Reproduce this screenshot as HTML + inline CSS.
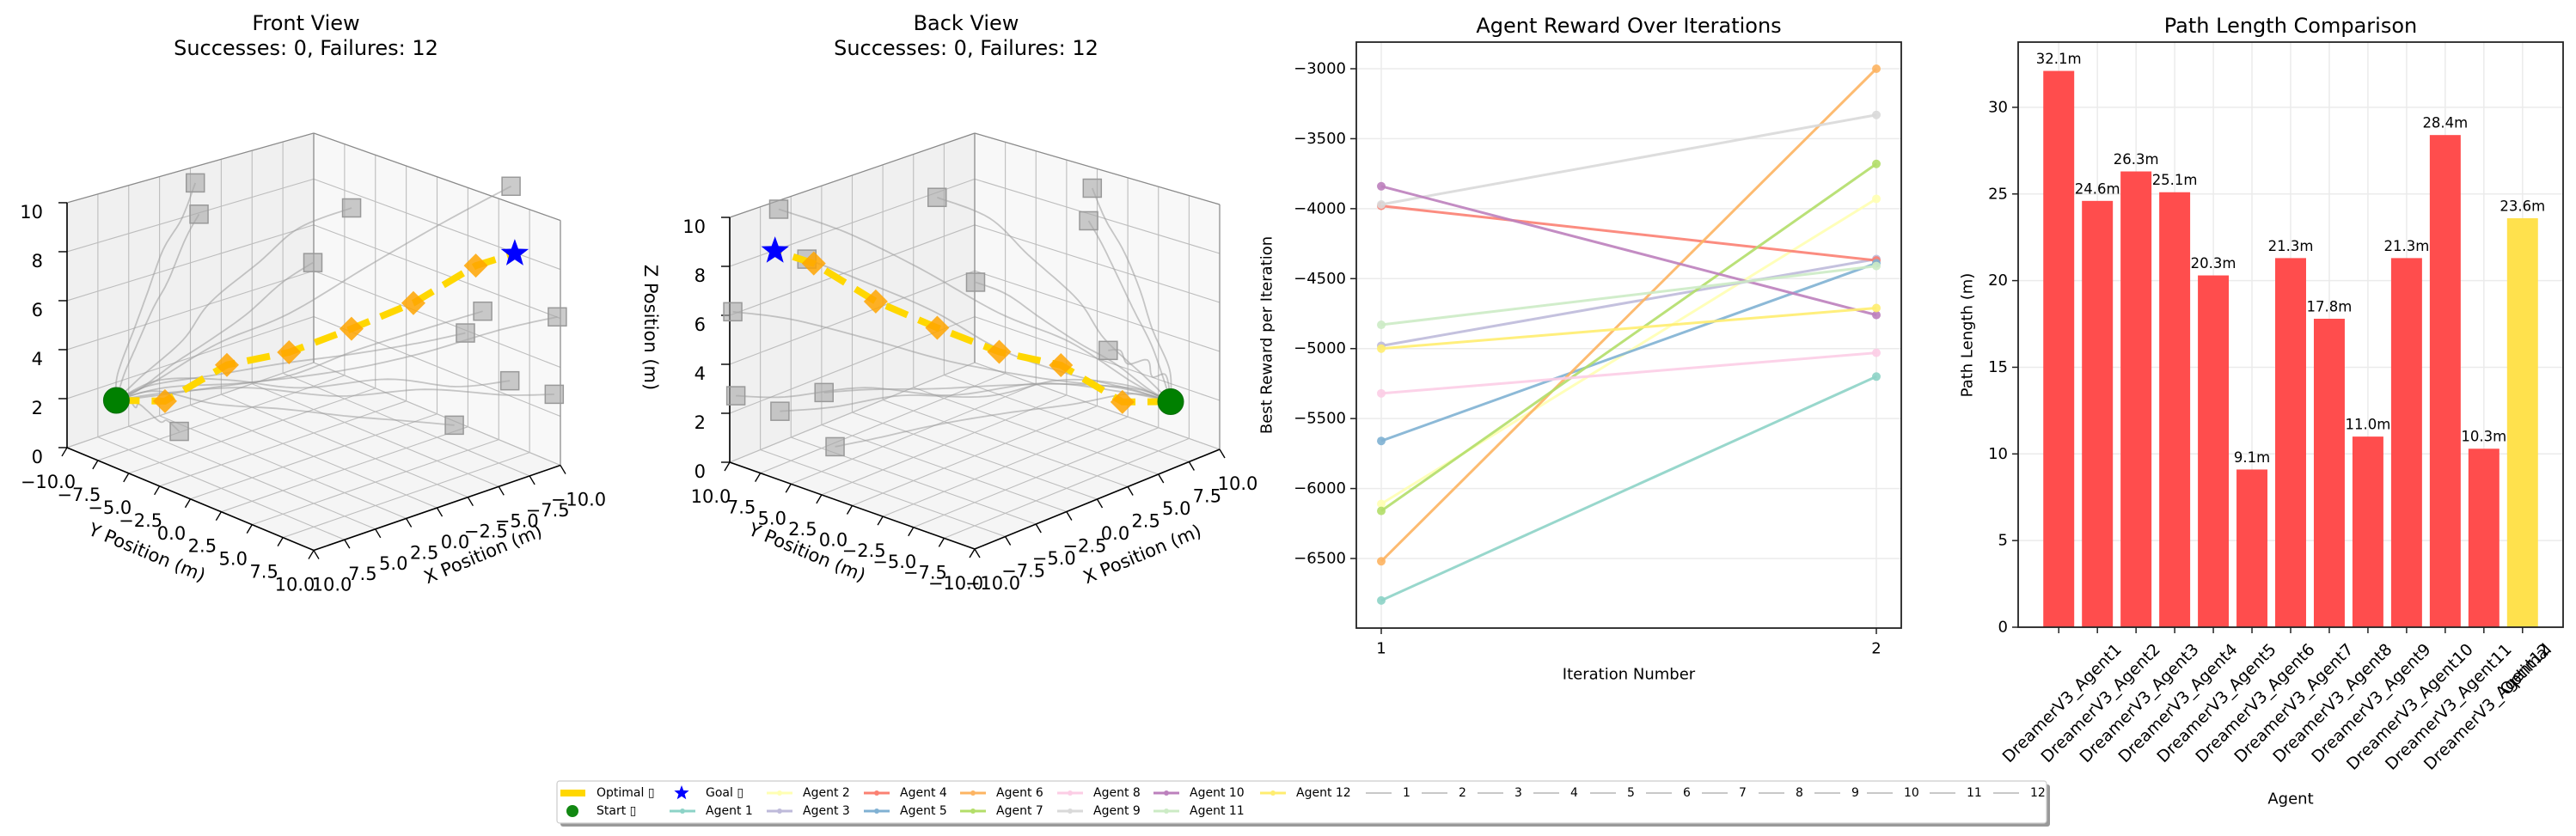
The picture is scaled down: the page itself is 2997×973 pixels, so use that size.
<!DOCTYPE html>
<html><head><meta charset="utf-8"><title>Agent Trajectory Analysis</title>
<style>
html,body{margin:0;padding:0;background:#fff;}
svg{display:block;font-family:"DejaVu Sans","Liberation Sans",sans-serif;}
</style></head>
<body>
<svg id="chart" xmlns="http://www.w3.org/2000/svg" width="2997" height="973" viewBox="0 0 2997 973">
<rect x="0" y="0" width="2997" height="973" fill="#ffffff"/>
</svg>
<script>
// ===== 3D scene data =====
const startPos = [8, -8, 2];
const goalPos = [-8.15, 8.15, 8.58];
const pathX = [8, 6.03, 3.52, 1.0, -1.53, -4.04, -6.57, -8.15];
const pathY = [-8, -6.03, -3.52, -1.0, 1.53, 4.04, 6.57, 8.15];
const pathZ = [2, 2.04, 3.61, 4.22, 5.27, 6.41, 8.03, 8.58];
const obsX = [4.49, 4.26, -0.92, -1.2, -9.66, -3.83, -9.75, -9.68, -9.8, -10, -6.98, 10];
const obsY = [-5.11, -5.04, 2.15, -1.27, 6.34, 9.87, 10, 2.62, 6.1, 9.5, 4.42, -0.9];
const obsZ = [10.9, 9.6, 10.4, 7.5, 10.8, 7.2, 6.1, 4.0, 2.7, 2.8, 1.0, 2.5];
const trajX = [
  [8, 8.3, 7.2, 7.0, 6.0, 5.3, 4.49],
  [8, 7.6, 7.4, 6.4, 6.0, 4.9, 4.26],
  [8, 7.0, 5.4, 4.4, 2.6, 1.2, -0.92],
  [8, 7.2, 5.8, 4.2, 2.5, 0.6, -1.2],
  [8, 6.5, 4.0, 1.0, -2.5, -6.0, -9.66],
  [8, 6.8, 4.5, 2.5, 0.5, -2.0, -3.83],
  [8, 6.0, 3.0, -0.5, -3.5, -7.0, -9.75],
  [8, 6.5, 3.5, 0.0, -3.5, -7.0, -9.68],
  [8, 6.0, 3.5, 0.0, -4.0, -7.0, -9.8],
  [8, 6.2, 3.0, -1.0, -4.5, -8.0, -10],
  [8, 6.3, 4.0, 1.0, -2.0, -5.0, -6.98],
  [8, 8.6, 9.0, 9.6, 9.5, 9.9, 10]];
const trajY = [
  [-8, -7.6, -7.3, -6.5, -6.2, -5.4, -5.11],
  [-8, -7.8, -7.0, -6.6, -5.8, -5.5, -5.04],
  [-8, -7.0, -5.2, -4.0, -1.8, 0.0, 2.15],
  [-8, -7.0, -5.6, -4.4, -3.0, -2.0, -1.27],
  [-8, -6.5, -3.8, -1.0, 2.0, 4.5, 6.34],
  [-8, -6.0, -3.0, 0.5, 4.0, 7.5, 9.87],
  [-8, -6.0, -2.5, 1.5, 5.0, 8.0, 10],
  [-8, -6.8, -4.5, -2.5, -0.5, 1.5, 2.62],
  [-8, -6.5, -3.5, -1.0, 2.0, 4.5, 6.1],
  [-8, -6.0, -2.5, 1.0, 4.5, 7.5, 9.5],
  [-8, -6.5, -4.0, -1.5, 1.0, 3.0, 4.42],
  [-8, -7.0, -5.5, -4.5, -3.0, -2.0, -0.9]];
const trajZ = [
  [2, 3.2, 5.0, 6.5, 8.2, 9.5, 10.9],
  [2, 3.0, 4.3, 5.8, 7.0, 8.6, 9.6],
  [2, 3.0, 4.6, 6.2, 8.0, 9.5, 10.4],
  [2, 2.5, 3.6, 4.5, 5.6, 6.8, 7.5],
  [2, 2.8, 4.5, 5.8, 7.8, 9.5, 10.8],
  [2, 2.4, 3.0, 3.8, 5.2, 6.4, 7.2],
  [2, 2.6, 3.0, 3.7, 4.6, 5.6, 6.1],
  [2, 2.6, 3.0, 3.3, 3.5, 3.8, 4.0],
  [2, 2.8, 3.0, 2.6, 2.9, 2.6, 2.7],
  [2, 2.4, 2.8, 2.5, 2.9, 2.7, 2.8],
  [2, 2.4, 2.0, 1.8, 1.5, 1.2, 1.0],
  [2, 2.8, 2.4, 2.8, 2.4, 2.7, 2.5]];
const axisTicksXY = [-10, -7.5, -5, -2.5, 0, 2.5, 5, 7.5, 10];
const axisTicksZ = [0, 2, 4, 6, 8, 10];

// ===== Reward line chart data =====
const iterations = [1, 2];
const agentNames = ["Agent 1","Agent 2","Agent 3","Agent 4","Agent 5","Agent 6","Agent 7","Agent 8","Agent 9","Agent 10","Agent 11","Agent 12"];
const rewardIter1 = [-6800, -6110, -4980, -3980, -5660, -6520, -6160, -5320, -3970, -3840, -4830, -5000];
const rewardIter2 = [-5200, -3930, -4360, -4370, -4390, -3000, -3680, -5030, -3330, -4760, -4410, -4710];
const rewardTicks = [-3000, -3500, -4000, -4500, -5000, -5500, -6000, -6500];
const agentColors = ["#8dd3c7","#ffffb3","#bebada","#fb8072","#80b1d3","#fdb462","#b3de69","#fccde5","#d9d9d9","#bc80bd","#ccebc5","#ffed6f"];

// ===== Path length bar chart data =====
const barLabels = ["DreamerV3_Agent1","DreamerV3_Agent2","DreamerV3_Agent3","DreamerV3_Agent4","DreamerV3_Agent5","DreamerV3_Agent6","DreamerV3_Agent7","DreamerV3_Agent8","DreamerV3_Agent9","DreamerV3_Agent10","DreamerV3_Agent11","DreamerV3_Agent12","Optimal"];
const barValues = [32.1, 24.6, 26.3, 25.1, 20.3, 9.1, 21.3, 17.8, 11.0, 21.3, 28.4, 10.3, 23.6];
const barTicks = [0, 5, 10, 15, 20, 25, 30];

const NS = "http://www.w3.org/2000/svg";
const svg = document.getElementById("chart");
function el(tag, parent) { const e = document.createElementNS(NS, tag); (parent || svg).appendChild(e); return e; }
function set(e, o) { for (const k in o) e.setAttribute(k, o[k]); return e; }
function fmt(v) { return v.toFixed(1).replace("-", "\u2212"); }
function txt(parent, x, y, s, size, anchor, extra) {
  const t = el("text", parent);
  set(t, { x: x, y: y, "font-size": size, "text-anchor": anchor || "middle", "dominant-baseline": "central", fill: "#000" });
  if (extra) set(t, extra);
  t.textContent = s;
  return t;
}

function proj(v, x, y, z) {
  if (v === 0) {
    const d = (x + y) / 20;
    return [365 - 14.35 * x + 14.35 * y, 531.25 + 4.95 * x + 5.98 * y - (28.5 + 1.8 * d) * z];
  }
  const d = -(x + y) / 20;
  return [1134 + 14.25 * x - 14.25 * y, 530.5 - 5.8 * x - 5.05 * y - (28.5 + 1.8 * d) * z];
}
function polyPts(v, pts) { return pts.map(p => proj(v, p[0], p[1], p[2]).map(n => n.toFixed(1)).join(",")).join(" "); }
function line3(v, g, a, b, stroke, w) {
  const p = proj(v, a[0], a[1], a[2]), q = proj(v, b[0], b[1], b[2]);
  return set(el("line", g), { x1: p[0], y1: p[1], x2: q[0], y2: q[1], stroke: stroke, "stroke-width": w });
}
function catmull(xs, ys, zs) {
  const out = [];
  const n = xs.length;
  for (let i = 0; i < n - 1; i++) {
    const i0 = Math.max(0, i - 1), i3 = Math.min(n - 1, i + 2);
    for (let s = 0; s < 10; s++) {
      const t = s / 10, t2 = t * t, t3 = t2 * t;
      const f = (a, b, c, d) => 0.5 * ((2 * b) + (-a + c) * t + (2 * a - 5 * b + 4 * c - d) * t2 + (-a + 3 * b - 3 * c + d) * t3);
      out.push([f(xs[i0], xs[i], xs[i + 1], xs[i3]), f(ys[i0], ys[i], ys[i + 1], ys[i3]), f(zs[i0], zs[i], zs[i + 1], zs[i3])]);
    }
  }
  out.push([xs[n - 1], ys[n - 1], zs[n - 1]]);
  return out;
}
function starPoints(cx, cy, R, r) {
  const pts = [];
  for (let i = 0; i < 10; i++) {
    const a = -Math.PI / 2 + i * Math.PI / 5, rad = i % 2 === 0 ? R : r;
    pts.push((cx + rad * Math.cos(a)).toFixed(1) + "," + (cy + rad * Math.sin(a)).toFixed(1));
  }
  return pts.join(" ");
}

function draw3D(v) {
  const s = v === 0 ? 1 : -1;
  const g = el("g");
  
  
  const cx = v === 0 ? 356 : 1124;
  const t1 = txt(g, cx, 27, v === 0 ? "Front View" : "Back View", 24);
  
  
  const t2 = txt(g, cx, 56, "Successes: 0, Failures: 12", 24);
  
  
  const px = -10 * s, py = -10 * s;
  const floor = set(el("polygon", g), { points: polyPts(v, [[-10,-10,0],[10,-10,0],[10,10,0],[-10,10,0]]), fill: "#f5f5f5", stroke: "none" });
  
  
  const wy = set(el("polygon", g), { points: polyPts(v, [[-10,py,0],[10,py,0],[10,py,10],[-10,py,10]]), fill: "#f0f0f0", stroke: "none" });
  
  
  const wx = set(el("polygon", g), { points: polyPts(v, [[px,-10,0],[px,10,0],[px,10,10],[px,-10,10]]), fill: "#f8f8f8", stroke: "none" });
  
  
  const gg = el("g", g);
  
  
  const gc = "#bdbdbd";
  axisTicksXY.forEach(t => {
    line3(v, gg, [t,-10,0], [t,10,0], gc, 1.1);
    line3(v, gg, [-10,t,0], [10,t,0], gc, 1.1);
    line3(v, gg, [t,py,0], [t,py,10], gc, 1.1);
    line3(v, gg, [px,t,0], [px,t,10], gc, 1.1);
  });
  axisTicksZ.forEach(z => {
    line3(v, gg, [-10,py,z], [10,py,z], gc, 1.1);
    line3(v, gg, [px,-10,z], [px,10,z], gc, 1.1);
  });
  [[[px,py,0],[px,py,10]],[[-px,py,10],[px,py,10]],[[px,py,10],[px,-py,10]],[[-px,py,0],[-px,py,10]],[[px,-py,0],[px,-py,10]]].forEach(e => line3(v, gg, e[0], e[1], "#8a8a8a", 1.2));
  const ax = el("g", g);
  
  
  line3(v, ax, [10*s,-10*s,0], [10*s,-10*s,10], "#000", 1.6);
  line3(v, ax, [10*s,-10*s,0], [10*s,10*s,0], "#000", 1.6);
  line3(v, ax, [10*s,10*s,0], [-10*s,10*s,0], "#000", 1.6);
  axisTicksXY.forEach(t => {
    const p = proj(v, 10*s, t, 0);
    set(el("line", ax), { x1: p[0], y1: p[1], x2: p[0]-6, y2: p[1]+10, stroke: "#000", "stroke-width": 1.4 });
    const l = txt(g, p[0] - 22, p[1] + 40, fmt(t), 21);
    
    
    const q = proj(v, t, 10*s, 0);
    set(el("line", ax), { x1: q[0], y1: q[1], x2: q[0]+6, y2: q[1]+10, stroke: "#000", "stroke-width": 1.4 });
    const m = txt(g, q[0] + 21, q[1] + 40, fmt(t), 21);
    
    
  });
  axisTicksZ.forEach(z => {
    const p = proj(v, 10*s, -10*s, z);
    set(el("line", ax), { x1: p[0], y1: p[1], x2: p[0]-10, y2: p[1], stroke: "#000", "stroke-width": 1.4 });
    const l = txt(g, p[0] - 28, p[1] + 11, String(z), 21, "end");
    
    
  });
  const yl = txt(g, v === 0 ? 171 : 939, 643, "Y Position (m)", 21, "middle", { transform: "rotate(22.6 " + (v === 0 ? 171 : 939) + " 643)" });
  
  
  const xl = txt(g, v === 0 ? 562 : 1329, 645, "X Position (m)", 21, "middle", { transform: "rotate(-22.6 " + (v === 0 ? 562 : 1329) + " 645)" });
  
  
  if (v === 1) {
    const zl = txt(g, 757, 381, "Z Position (m)", 21, "middle", { transform: "rotate(90 757 381)" });
    
    
  }
  for (let i = 0; i < trajX.length; i++) {
    const pts = catmull(trajX[i], trajY[i], trajZ[i]);
    const tr = set(el("polyline", g), { points: polyPts(v, pts), fill: "none", stroke: "#9a9a9a", "stroke-width": 1.8, "stroke-opacity": 0.55 });
    
    
  }
  for (let i = 0; i < obsX.length; i++) {
    const p = proj(v, obsX[i], obsY[i], obsZ[i]);
    const r = set(el("rect", g), { x: p[0]-10.5, y: p[1]-10.5, width: 21, height: 21, fill: "#a8a8a8", "fill-opacity": 0.6, stroke: "#999", "stroke-width": 1.5 });
    
    
  }
  const pathPts = pathX.map((x, i) => [x, pathY[i], pathZ[i]]);
  const op = set(el("polyline", g), { points: polyPts(v, pathPts), fill: "none", stroke: "#ffd700", "stroke-width": 8, "stroke-dasharray": "27 14" });
  
  
  for (let i = 1; i < pathX.length - 1; i++) {
    const p = proj(v, pathX[i], pathY[i], pathZ[i]);
    const d = set(el("polygon", g), { points: [[p[0], p[1]-14],[p[0]+14,p[1]],[p[0],p[1]+14],[p[0]-14,p[1]]].map(a => a.join(",")).join(" "), fill: "#ffa500", "fill-opacity": 0.85 });
    
    
  }
  const sp = proj(v, startPos[0], startPos[1], startPos[2]);
  const st = set(el("circle", g), { cx: sp[0], cy: sp[1], r: 15, fill: "#008000", stroke: "#0a6e0a", "stroke-width": 1 });
  
  
  const gp = proj(v, goalPos[0], goalPos[1], goalPos[2]);
  const go = set(el("polygon", g), { points: starPoints(gp[0], gp[1], 17, 7), fill: "#0000ff" });
  
  
}
draw3D(0);
draw3D(1);

(function () {
  const L = 1578, R = 2212, T = 49, B = 731;
  const xs = v => 1607 + (v - 1) * (2183 - 1607);
  const ys = v => 80 + (-3000 - v) / 500 * 81.43;
  const g = el("g");
  
  
  const ti = txt(g, (L + R) / 2, 30, "Agent Reward Over Iterations", 24);
  
  
  rewardTicks.forEach(t => {
    set(el("line", g), { x1: L, x2: R, y1: ys(t), y2: ys(t), stroke: "#ebebeb", "stroke-width": 1.5 });
    set(el("line", g), { x1: L - 7, x2: L, y1: ys(t), y2: ys(t), stroke: "#222", "stroke-width": 1.5 });
    const l = txt(g, L - 12, ys(t), String(t).replace("-", "\u2212"), 18, "end");
    
    
  });
  iterations.forEach(it => {
    set(el("line", g), { x1: xs(it), x2: xs(it), y1: T, y2: B, stroke: "#ebebeb", "stroke-width": 1.5 });
    set(el("line", g), { x1: xs(it), x2: xs(it), y1: B, y2: B + 7, stroke: "#222", "stroke-width": 1.5 });
    const l = txt(g, xs(it), B + 24, String(it), 18);
    
    
  });
  for (let i = 0; i < agentNames.length; i++) {
    const vals = [rewardIter1[i], rewardIter2[i]];
    const pl = set(el("polyline", g), { points: iterations.map((it, k) => xs(it) + "," + ys(vals[k])).join(" "), fill: "none", stroke: agentColors[i], "stroke-width": 3, "stroke-opacity": 0.9 });
    
    
    iterations.forEach((it, k) => {
      const c = set(el("circle", g), { cx: xs(it), cy: ys(vals[k]), r: 5, fill: agentColors[i], "fill-opacity": 0.9 });
      
      
    });
  }
  const fr = set(el("rect", g), { x: L, y: T, width: R - L, height: B - T, fill: "none", stroke: "#222", "stroke-width": 1.8 });
  
  
  const xl = txt(g, (L + R) / 2, 785, "Iteration Number", 18);
  
  
  const yl = txt(g, 1474, 390, "Best Reward per Iteration", 18, "middle", { transform: "rotate(-90 1474 390)" });
  
  
})();

(function () {
  const L = 2348, R = 2982, T = 49, B = 730;
  const xs = i => L + (i + 1.05) / 14.1 * (R - L);
  const ys = v => B - v * 20.17;
  const bw = 0.8 * (R - L) / 14.1;
  const g = el("g");
  
  
  const ti = txt(g, (L + R) / 2, 30, "Path Length Comparison", 24);
  
  
  barTicks.forEach(t => {
    set(el("line", g), { x1: L, x2: R, y1: ys(t), y2: ys(t), stroke: "#ebebeb", "stroke-width": 1.5 });
    set(el("line", g), { x1: L - 7, x2: L, y1: ys(t), y2: ys(t), stroke: "#222", "stroke-width": 1.5 });
    const l = txt(g, L - 12, ys(t), String(t), 18, "end");
    
    
  });
  barLabels.forEach((lab, i) => {
    set(el("line", g), { x1: xs(i), x2: xs(i), y1: T, y2: B, stroke: "#ebebeb", "stroke-width": 1.5 });
  });
  barValues.forEach((v, i) => {
    const r = set(el("rect", g), { x: xs(i) - bw / 2, y: ys(v), width: bw, height: B - ys(v), fill: i === barValues.length - 1 ? "#ffe14d" : "#ff4d4d" });
    
    
    const l = txt(g, xs(i), ys(v) - 14, v.toFixed(1) + "m", 16.5);
    
    
  });
  barLabels.forEach((lab, i) => {
    set(el("line", g), { x1: xs(i), x2: xs(i), y1: B, y2: B + 7, stroke: "#222", "stroke-width": 1.5 });
    const l = txt(g, 0, 0, lab, 19);
    const w = l.getComputedTextLength ? l.getComputedTextLength() : lab.length * 11;
    const h = (w + 19) * 0.7071;
    const cx = xs(i) + 4, cy = B + 16 + h / 2;
    set(l, { x: cx, y: cy, transform: "rotate(-45 " + cx + " " + cy + ")" });
    
    
  });
  const fr = set(el("rect", g), { x: L, y: T, width: R - L, height: B - T, fill: "none", stroke: "#222", "stroke-width": 1.8 });
  
  
  const xl = txt(g, (L + R) / 2, 930, "Agent", 18);
  
  
  const yl = txt(g, 2289, 390, "Path Length (m)", 18, "middle", { transform: "rotate(-90 2289 390)" });
  
  
})();

(function () {
  const g = el("g");
  
  
  set(el("rect", g), { x: 652, y: 913, width: 1733, height: 49, rx: 3, fill: "#999" });
  set(el("rect", g), { x: 648, y: 909, width: 1733, height: 49, rx: 3, fill: "#fff", stroke: "#ccc", "stroke-width": 1.2 });
  const rowY = [923, 944];
  const colText = [694, 821, 934, 1047, 1159, 1272, 1384, 1508];
  function entry(col, row, label, kind, color) {
    const tx = colText[col], y = rowY[row];
    const hx = tx - 42;
    const e = el("g", g);
    
    
    if (kind === "thick") set(el("rect", e), { x: hx, y: y - 4, width: 29, height: 8, fill: color });
    else if (kind === "dot") set(el("circle", e), { cx: hx + 14, cy: y, r: 7, fill: color });
    else if (kind === "star") set(el("polygon", e), { points: starPoints(hx + 14, y, 9, 3.8), fill: color });
    else {
      set(el("line", e), { x1: hx, x2: hx + 30, y1: y, y2: y, stroke: color, "stroke-width": 3 });
      set(el("circle", e), { cx: hx + 15, cy: y, r: 3, fill: color });
    }
    const t = txt(e, tx, y, label, 14, "start");
    
    
  }
  entry(0, 0, "Optimal \u25AF", "thick", "#ffd700");
  entry(0, 1, "Start \u25AF", "dot", "#128812");
  entry(1, 0, "Goal \u25AF", "star", "#0000ff");
  for (let i = 0; i < 12; i++) {
    const idx = i + 3;
    entry(Math.floor(idx / 2), idx % 2, agentNames[i], "line", agentColors[i]);
  }
  const numX = [1632, 1697, 1762, 1827, 1893, 1958, 2023, 2089, 2154, 2215, 2288, 2362];
  for (let i = 0; i < 12; i++) {
    const e = el("g", g);
    
    
    set(el("line", e), { x1: numX[i] - 43, x2: numX[i] - 13, y1: rowY[0], y2: rowY[0], stroke: "#c8c8c8", "stroke-width": 2 });
    const t = txt(e, numX[i], rowY[0], String(i + 1), 14, "start");
    
    
  }
})();
</script>
</body></html>
